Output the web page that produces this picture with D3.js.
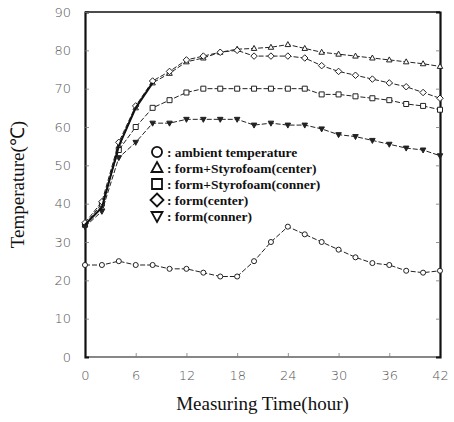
<!DOCTYPE html>
<html>
<head>
<meta charset="utf-8">
<script src="https://cdn.jsdelivr.net/npm/d3@7"></script>
<style>
  body { margin: 0; background: #fff; }
  svg { display: block; }
</style>
</head>
<body>
<svg></svg>
<script>
const hours = [0, 2, 4, 6, 8, 10, 12, 14, 16, 18, 20, 22, 24, 26, 28, 30, 32, 34, 36, 38, 40, 42]
const ambient = [24, 24, 25, 24, 24, 23, 23, 22, 21, 21, 25, 30, 34, 32, 30, 28, 26, 24.5, 24, 22.5, 22, 22.5]
const styroCenter = [34.5, 39, 55, 65, 71.5, 74, 77, 78, 79.5, 80.3, 80.5, 80.8, 81.5, 80.5, 79.5, 79, 78.5, 78, 77.5, 77, 76.5, 75.8]
const styroConner = [34.5, 40, 54, 60, 65, 67, 69, 70, 70, 70, 70, 70, 70, 70, 68.5, 68.5, 68, 67.5, 67, 66, 65.5, 64.5]
const formCenter = [35, 40.5, 56, 65.5, 72, 74.5, 77.5, 78.5, 79.5, 80, 78.5, 78.5, 78.5, 78, 76, 74.5, 73.5, 72.5, 71.5, 70.5, 69, 67.5]
const formConner = [34, 38, 52, 56, 61, 61, 62, 62, 62, 62, 60.5, 61, 60.5, 60.5, 59.5, 58, 57.5, 56.5, 55.5, 54.5, 54, 52.5]
const legendLabels = ['ambient temperature', 'form+Styrofoam(center)', 'form+Styrofoam(conner)', 'form(center)', 'form(conner)']
const xTicks = [0, 6, 12, 18, 24, 30, 36, 42]
const yTicks = [0, 10, 20, 30, 40, 50, 60, 70, 80, 90]

const width = 454
const height = 422
const plot = { left: 85, right: 440, top: 12, bottom: 357 }

const svg = d3.select('svg')
  .attr('width', width)
  .attr('height', height)

const xScale = d3.scaleLinear()
  .domain([0, 42])
  .range([plot.left, plot.right])

const yScale = d3.scaleLinear()
  .domain([0, 90])
  .range([plot.bottom, plot.top])

// frame
svg.append('line')
  .attr('x1', plot.left).attr('x2', plot.right)
  .attr('y1', plot.top).attr('y2', plot.top)
  .attr('stroke', '#111').attr('stroke-width', 1.5)
svg.append('line')
  .attr('x1', plot.left).attr('x2', plot.right)
  .attr('y1', plot.bottom).attr('y2', plot.bottom)
  .attr('stroke', '#111').attr('stroke-width', 1.2)

// axes
const yAxis = d3.axisLeft(yScale)
  .tickValues(yTicks)
  .tickSize(-4)
  .tickPadding(14)
  .tickFormat(d3.format('d'))

svg.append('g')
  .attr('class', 'yax')
  .attr('transform', `translate(${plot.left}, 0)`)
  .call(yAxis)

const yAxisRight = d3.axisRight(yScale)
  .tickValues(yTicks)
  .tickSize(-4)
  .tickFormat('')

svg.append('g')
  .attr('class', 'yax2')
  .attr('transform', `translate(${plot.right}, 0)`)
  .call(yAxisRight)

const xAxis = d3.axisBottom(xScale)
  .tickValues(xTicks)
  .tickSize(-4)
  .tickPadding(14)
  .tickFormat(d3.format('d'))

svg.append('g')
  .attr('class', 'xax')
  .attr('transform', `translate(0, ${plot.bottom})`)
  .call(xAxis)

svg.selectAll('.yax .domain, .yax2 .domain')
  .attr('stroke', '#111')
  .attr('stroke-width', 2.2)
svg.selectAll('.xax .domain').remove()
svg.selectAll('.tick line').attr('stroke', '#777').attr('stroke-width', 0.8)
svg.selectAll('.yax .tick line, .xax .tick line').filter(d => d === 0).remove()
svg.selectAll('.xax .tick line').filter(d => d === 42).remove()
svg.selectAll('.yax2 .tick line').filter(d => d === 0 || d === 90).remove()
svg.selectAll('.tick text')
  .style('font-family', '"DejaVu Sans", sans-serif')
  .style('font-size', '13px')
  .style('font-weight', '300')
  .attr('fill', '#555')

// series
const series = [
  { values: ambient, shape: 'circle' },
  { values: styroCenter, shape: 'triangle' },
  { values: styroConner, shape: 'square' },
  { values: formCenter, shape: 'diamond' },
  { values: formConner, shape: 'down' }
]

const line = d3.line()
  .x((d, i) => xScale(hours[i]))
  .y(d => yScale(d))

function markerPath(shape, s) {
  if (shape === 'circle') return d3.symbol(d3.symbolCircle, s * s * 0.8)()
  if (shape === 'square') return `M${-s / 2},${-s / 2}h${s}v${s}h${-s}Z`
  if (shape === 'diamond') return `M0,${-s * 0.65}L${s * 0.65},0L0,${s * 0.65}L${-s * 0.65},0Z`
  if (shape === 'triangle') return `M0,${-s * 0.6}L${s * 0.55},${s * 0.4}L${-s * 0.55},${s * 0.4}Z`
  return `M0,${s * 0.6}L${s * 0.55},${-s * 0.4}L${-s * 0.55},${-s * 0.4}Z`
}

series.forEach(s => {
  svg.append('path')
    .datum(s.values)
    .attr('d', line)
    .attr('fill', 'none')
    .attr('stroke', '#222')
    .attr('stroke-width', 1)
    .attr('stroke-dasharray', '5,2')

  svg.append('g')
    .selectAll('path')
    .data(s.values)
    .enter()
    .append('path')
    .attr('transform', (d, i) => `translate(${xScale(hours[i])}, ${yScale(d)})`)
    .attr('d', markerPath(s.shape, 5))
    .attr('fill', s.shape === 'down' ? '#222' : '#fff')
    .attr('stroke', '#222')
    .attr('stroke-width', 1)
})

// first rise drawn heavier
svg.append('path')
  .datum(styroCenter.slice(0, 5))
  .attr('d', line)
  .attr('fill', 'none')
  .attr('stroke', '#111')
  .attr('stroke-width', 2)

// legend
const legend = svg.append('g')
  .attr('transform', 'translate(157, 152)')

legendLabels.forEach((label, i) => {
  const row = legend.append('g')
    .attr('transform', `translate(0, ${i * 16})`)
  row.append('path')
    .attr('d', markerPath(series[i].shape, 10))
    .attr('fill', 'none')
    .attr('stroke', '#111')
    .attr('stroke-width', 1.8)
  row.append('text')
    .text(': ' + label)
    .attr('x', 10)
    .attr('y', 5)
    .style('font-family', '"Liberation Serif", serif')
    .style('font-weight', 'bold')
    .style('font-size', '13.5px')
    .attr('fill', '#111')
})

// axis titles
svg.append('text')
  .text('Measuring Time(hour)')
  .attr('x', (plot.left + plot.right) / 2)
  .attr('y', 410)
  .attr('text-anchor', 'middle')
  .style('font-family', '"Liberation Serif", serif')
  .style('font-size', '19px')
  .attr('fill', '#111')

svg.append('text')
  .text('Temperature(℃)')
  .attr('transform', `translate(24, ${(plot.top + plot.bottom) / 2}) rotate(-90)`)
  .attr('text-anchor', 'middle')
  .style('font-family', '"Liberation Serif", serif')
  .style('font-size', '19px')
  .attr('fill', '#111')
</script>
</body>
</html>
